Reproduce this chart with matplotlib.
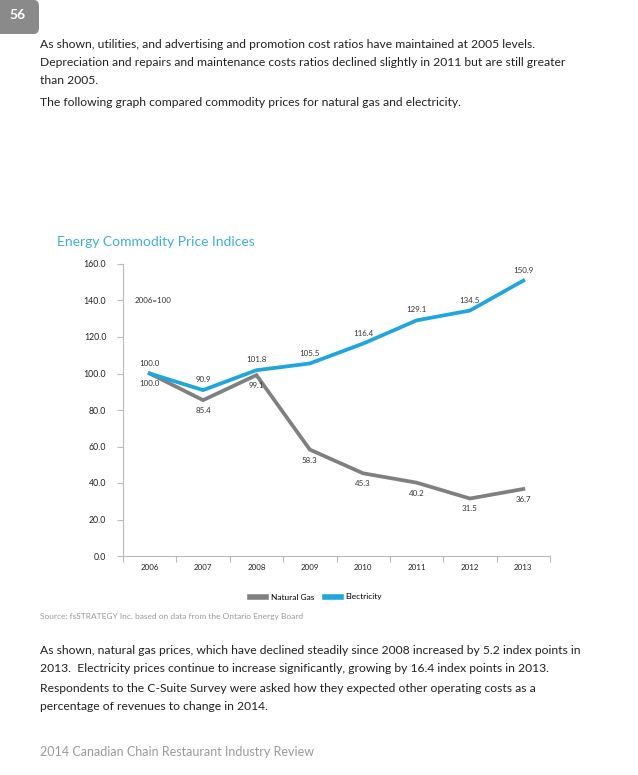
import matplotlib
matplotlib.use("Agg")
import matplotlib.pyplot as plt
from matplotlib.patches import FancyBboxPatch
from matplotlib.lines import Line2D

years = ["2006", "2007", "2008", "2009", "2010", "2011", "2012", "2013"]
natural_gas = [100.0, 85.4, 99.1, 58.3, 45.3, 40.2, 31.5, 36.7]
electricity = [100.0, 90.9, 101.8, 105.5, 116.4, 129.1, 134.5, 150.9]
y_ticks = [0, 20, 40, 60, 80, 100, 120, 140, 160]

GAS = "#808080"
ELEC = "#1fa6dc"
FONT = "Lato"

W, H = 638, 775
fig = plt.figure(figsize=(W / 100, H / 100), dpi=100)
fig.patch.set_facecolor("white")

def fx(px):
    return px / W

def fy(py):
    return 1 - py / H

# page number box
box = FancyBboxPatch((fx(-10), fy(34)), fx(49), 34 / H,
                     boxstyle="round,pad=0,rounding_size=0.008",
                     transform=fig.transFigure, facecolor="#8a8a8a",
                     edgecolor="none")
fig.add_artist(box)
fig.text(fx(18), fy(15), "56", color="white", fontsize=10, fontweight="bold",
         ha="center", va="center", family=FONT)

body = dict(fontsize=8.7, color="#222222", family=FONT, ha="left", va="center")
fig.text(fx(40), fy(44), "As shown, utilities, and advertising and promotion cost ratios have maintained at 2005 levels.", **body)
fig.text(fx(40), fy(62), "Depreciation and repairs and maintenance costs ratios declined slightly in 2011 but are still greater", **body)
fig.text(fx(40), fy(80), "than 2005.", **body)
fig.text(fx(40), fy(103), "The following graph compared commodity prices for natural gas and electricity.", **body)

fig.text(fx(57), fy(242), "Energy Commodity Price Indices", fontsize=10, color="#3bb0dd",
         family=FONT, ha="left", va="center")

ax = fig.add_axes([fx(123), fy(556), fx(550) - fx(123), (556 - 264) / H])
x = list(range(len(years)))
ax.plot(x, natural_gas, color=GAS, lw=2.7, solid_joinstyle="miter", label="Natural Gas", zorder=3)
ax.plot(x, electricity, color=ELEC, lw=2.7, solid_joinstyle="miter", label="Electricity", zorder=4)

for i, v in enumerate(electricity):
    ax.annotate(f"{v:.1f}", (i, v), xytext=(0, 5), textcoords="offset points",
                ha="center", va="bottom", fontsize=5.7, color="#333333", family=FONT)
for i, v in enumerate(natural_gas):
    ax.annotate(f"{v:.1f}", (i, v), xytext=(0, -5), textcoords="offset points",
                ha="center", va="top", fontsize=5.7, color="#333333", family=FONT)

ax.text(-0.28, 140, "2006=100", fontsize=5.7, color="#333333", family=FONT,
        ha="left", va="center")

ax.set_xlim(-0.5, len(years) - 0.5)
ax.set_ylim(0, 160)
ax.set_yticks(y_ticks)
ax.set_yticklabels([f"{t:.1f}" for t in y_ticks], fontsize=6.3, family=FONT, color="#222222")
ax.set_xticks(x)
ax.set_xticklabels(years, fontsize=5.7, family=FONT, color="#222222")
ax.tick_params(axis="x", length=0, pad=6)
ax.set_xticks([i + 0.5 for i in range(-1, len(years))], minor=True)
ax.tick_params(axis="x", which="minor", length=4, color="#bbbbbb", width=0.8)
ax.tick_params(axis="y", length=4, color="#bbbbbb", width=0.8, pad=8)
for s in ["top", "right"]:
    ax.spines[s].set_visible(False)
for s in ["left", "bottom"]:
    ax.spines[s].set_color("#bbbbbb")
    ax.spines[s].set_linewidth(0.8)

handles = [Line2D([0], [0], color=GAS, lw=4), Line2D([0], [0], color=ELEC, lw=4)]
fig.legend(handles, ["Natural Gas", "Electricity"], loc="center",
           bbox_to_anchor=(fx(316), fy(597)), ncol=2, frameon=False,
           prop={"family": FONT, "size": 6}, handlelength=2.0,
           columnspacing=1.3, handletextpad=0.5)

fig.text(fx(40), fy(617), "Source: fsSTRATEGY Inc. based on data from the Ontario Energy Board",
         fontsize=6, color="#9a9a9a", family=FONT, ha="left", va="center")

fig.text(fx(40), fy(650), "As shown, natural gas prices, which have declined steadily since 2008 increased by 5.2 index points in", **body)
fig.text(fx(40), fy(669), "2013.  Electricity prices continue to increase significantly, growing by 16.4 index points in 2013.", **body)
fig.text(fx(40), fy(688), "Respondents to the C-Suite Survey were asked how they expected other operating costs as a", **body)
fig.text(fx(40), fy(707), "percentage of revenues to change in 2014.", **body)

fig.text(fx(40), fy(752), "2014 Canadian Chain Restaurant Industry Review", fontsize=9,
         color="#9a9a9a", family=FONT, ha="left", va="center")

fig.savefig("out.png", dpi=100, facecolor="white")
